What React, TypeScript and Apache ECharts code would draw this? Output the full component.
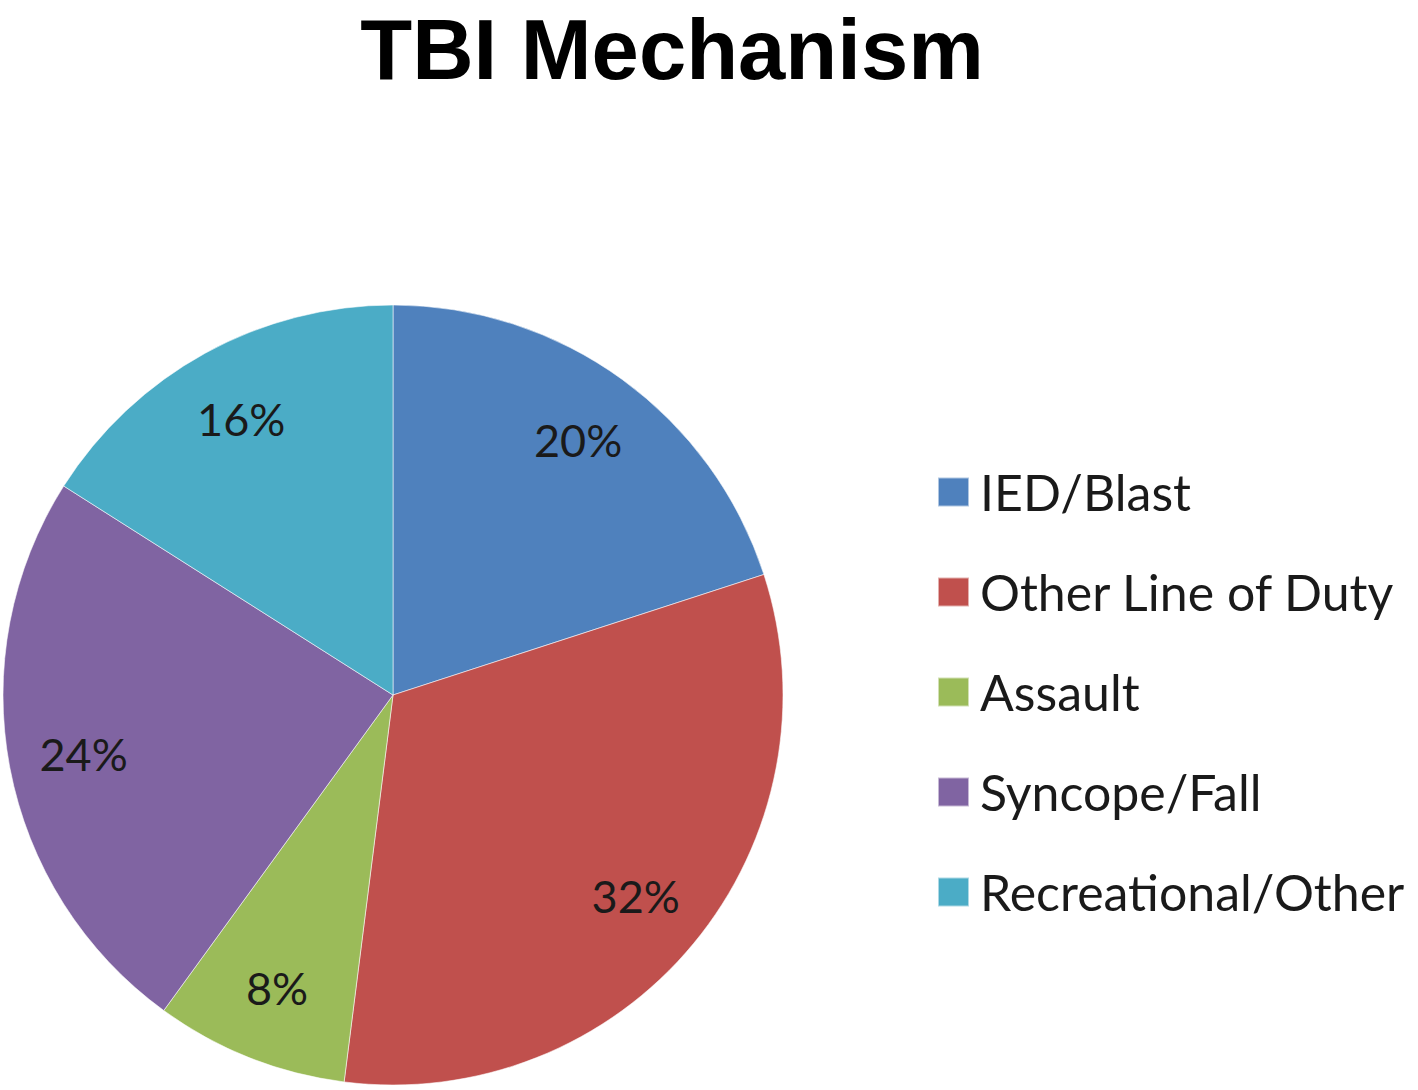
import React, { useEffect, useRef } from "react";
import * as echarts from "echarts";

const categories = ["IED/Blast", "Other Line of Duty", "Assault", "Syncope/Fall", "Recreational/Other"];
const values = [20, 32, 8, 24, 16];
const colors = ["#4F81BD", "#C0504D", "#9BBB59", "#8064A2", "#4BACC6"];
const titleText = "TBI Mechanism";

export default function App() {
  const ref = useRef<HTMLDivElement>(null);
  useEffect(() => {
    document.body.style.margin = "0";
    const chart = echarts.init(ref.current!, null, { renderer: "svg" });
    const data = categories.map((name, i) => ({ name, value: values[i], itemStyle: { color: colors[i] } }));
    const R = 390;
    chart.setOption({
      animation: false,
      backgroundColor: "#ffffff",
      title: {
        text: titleText,
        left: 672,
        textAlign: "center",
        top: 1,
        padding: 0,
        textStyle: { fontFamily: "Liberation Sans", fontWeight: "bold", fontSize: 85, lineHeight: 96, color: "#000000" },
      },
      legend: {
        orient: "vertical",
        left: 932,
        top: 462,
        icon: "rect",
        itemWidth: 31,
        itemHeight: 29,
        itemGap: 50,
        data: categories,
        textStyle: { fontFamily: "Lato", fontSize: 50, color: "#1a1a1a", padding: [0, 0, 0, 6], lineHeight: 50 },
        selectedMode: false,
      },
      series: [
        {
          type: "pie",
          center: [393, 695],
          radius: [0, R],
          startAngle: 90,
          clockwise: true,
          silent: true,
          label: { show: false },
          labelLine: { show: false },
          itemStyle: { borderColor: "rgba(255,255,255,0.55)", borderWidth: 1 },
          data,
        },
        {
          type: "pie",
          center: [393, 695],
          radius: [R * 0.6, R],
          startAngle: 90,
          clockwise: true,
          silent: true,
          labelLine: { show: false },
          itemStyle: { color: "rgba(0,0,0,0)", borderWidth: 0 },
          label: {
            show: true,
            position: "inside",
            formatter: (p: any) => p.value + "%",
            fontFamily: "Lato",
            fontSize: 45,
            color: "#1a1a1a",
          },
          data: categories.map((name, i) => ({ name, value: values[i] })),
        },
      ],
    });
    return () => chart.dispose();
  }, []);
  return <div ref={ref} style={{ position: "absolute", left: 0, top: 0, width: 1418, height: 1090 }} />;
}
